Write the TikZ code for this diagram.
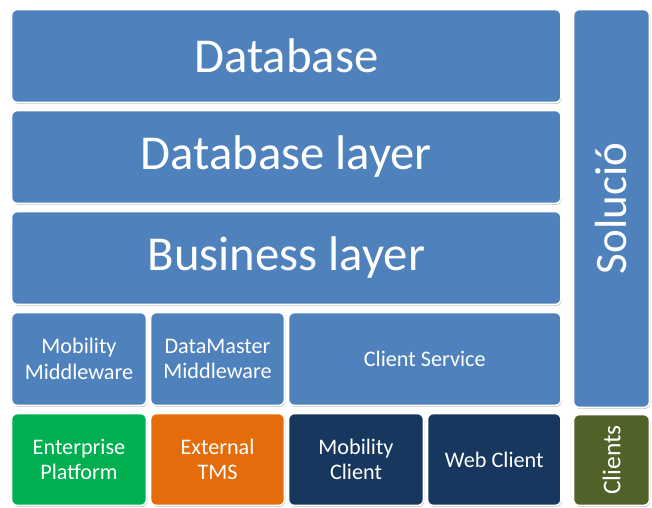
\documentclass[tikz,border=0pt]{standalone}
\usepackage{fontspec}
\setmainfont{Carlito}
\usetikzlibrary{shadows}
\definecolor{bl}{RGB}{79,129,189}
\definecolor{gr}{RGB}{0,176,80}
\definecolor{orng}{RGB}{228,108,10}
\definecolor{navy}{RGB}{23,55,94}
\definecolor{olive}{RGB}{79,98,40}
\begin{document}
\begin{tikzpicture}[x=1pt,y=-1pt,
  box/.style={rounded corners=6pt, draw=white, line width=1.6pt, text=white, align=center, inner sep=0pt,
    drop shadow={shadow xshift=0.8pt, shadow yshift=-1.4pt, opacity=0.35, fill=black!70}},
  big/.style={font=\fontsize{48.7}{52}\selectfont},
  small/.style={font=\fontsize{22.2}{25.5}\selectfont},
  vert/.style={text=white, inner sep=0pt, rotate=90}]
\useasboundingbox[fill=white] (0,0) rectangle (652,507);
% left stack
\node[box, fill=bl, big, minimum width=549.5pt, minimum height=93pt] (db) at (286.25,56) {Database};
\node[box, fill=bl, big, minimum width=549.5pt, minimum height=93pt] (dbl) at (286.25,157) {Database layer};
\node[box, fill=bl, big, minimum width=549.5pt, minimum height=93pt] (bl) at (286.25,258) {Business layer};
% middleware row
\node[box, fill=bl, small, minimum width=135pt, minimum height=93pt] (mm) at (79,359) {Mobility\\Middleware};
\node[box, fill=bl, small, minimum width=134pt, minimum height=93pt] (dm) at (217.5,359) {DataMaster\\Middleware};
\node[box, fill=bl, small, minimum width=272.5pt, minimum height=93pt] (cs) at (424.75,359) {Client Service};
% bottom row
\node[box, fill=gr, small, minimum width=135pt, minimum height=92pt] (ep) at (79,459.5) {Enterprise\\Platform};
\node[box, fill=orng, small, minimum width=134pt, minimum height=92pt] (et) at (217.5,459.5) {External\\TMS};
\node[box, fill=navy, small, minimum width=135pt, minimum height=92pt] (mc) at (356,459.5) {Mobility\\Client};
\node[box, fill=navy, small, minimum width=133.5pt, minimum height=92pt] (wc) at (494.25,459.5) {Web Client};
% right column
\node[box, fill=bl, minimum width=76pt, minimum height=398pt] (sol) at (611.5,208.5) {};
\node[vert, font=\fontsize{45}{48}\selectfont] (soltxt) at (sol.center) {Solució};
\node[box, fill=olive, minimum width=76pt, minimum height=91pt] (cl) at (611.5,460) {};
\node[vert, font=\fontsize{25.5}{28}\selectfont] (cltxt) at (cl.center) {Clients};
\end{tikzpicture}
\end{document}
